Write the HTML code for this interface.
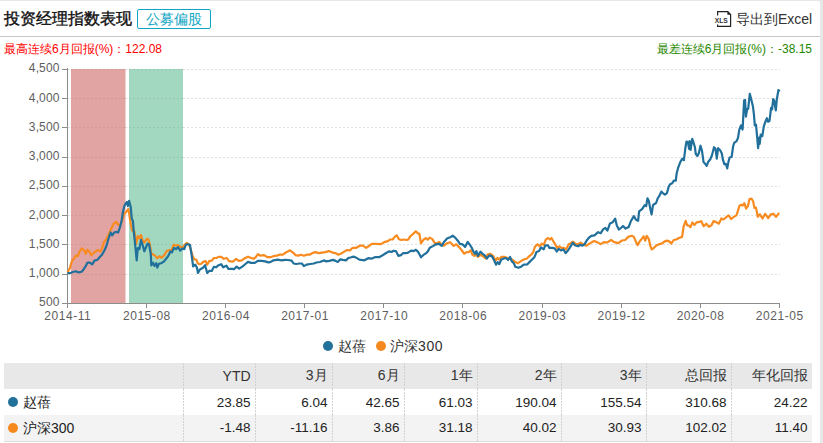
<!DOCTYPE html>
<html><head><meta charset="utf-8">
<style>
html,body{margin:0;padding:0;}
body{width:823px;height:443px;overflow:hidden;background:#e8e8e8;font-family:"Liberation Sans",sans-serif;position:relative;}
#panel{position:absolute;left:-6px;top:1px;width:826px;height:460px;background:#fff;border-radius:2px;}
.abs{position:absolute;white-space:nowrap;}
#title{left:4px;top:8px;font-size:16px;font-weight:500;-webkit-text-stroke:0.4px #111;color:#111;line-height:22px;}
#badge{left:137px;top:9px;width:72px;height:18px;border:1px solid #0ea6c4;border-radius:2px;color:#0ea6c4;font-size:14px;line-height:18px;text-align:center;}
#sep{left:0;top:36px;width:820px;height:1px;background:#c6c6c6;}
#excel{left:736px;top:9px;font-size:14px;color:#333;line-height:20px;}
#maxr{left:4px;top:42px;font-size:12px;color:#f00;line-height:14px;}
#minr{right:11px;top:42px;font-size:12px;color:#1f8800;line-height:14px;}
.ax{font-size:12px;color:#555;line-height:14px;}
.yl{right:758px;text-align:right;}
.xl{width:60px;margin-left:-30px;text-align:center;top:309px;}
#legend,#legend2{top:338px;font-size:14px;color:#333;line-height:16px;}
.dot{display:inline-block;width:10px;height:10px;border-radius:50%;vertical-align:middle;}
table{position:absolute;left:4px;top:363px;border-collapse:collapse;font-size:14px;color:#222;}
td{height:26px;padding:0 4.4px 0 0;font-size:13.5px;text-align:right;box-sizing:border-box;background-image:linear-gradient(#d2d2d2 67%,transparent 67%);background-size:1px 3px;background-repeat:repeat-y;background-position:0 0;}
td.n{text-align:left;background-image:none;padding-left:4px;font-size:14px;}
tr.h td{font-size:14px;}
table{border-bottom:1px solid #ddd;}
.nm{position:relative;top:1px;margin-left:5px;}
tr.h td{background-color:#e8e8e8;color:#333;}
tr.r2 td{background-color:#f3f3f3;}
</style></head><body>
<div id="panel"></div>
<div class="abs" id="title">投资经理指数表现</div>
<div class="abs" id="badge">公募偏股</div>
<div class="abs" id="sep"></div>
<svg class="abs" style="left:712px;top:8px" width="22" height="22" viewBox="712 8 22 22"><path d="M717.6 15.6 V11.6 H727.8 L730.6 14.4 V26.3 H717.6 V24.4" fill="none" stroke="#222" stroke-width="1.2"/><path d="M727.4 11.2 L731 14.8 H727.4 Z" fill="#222"/><text x="714.8" y="22.8" font-size="7" font-weight="bold" fill="#333" font-family="Liberation Sans" textLength="13" lengthAdjust="spacingAndGlyphs">XLS</text></svg><div class="abs" id="excel">导出到Excel</div>
<div class="abs" id="maxr">最高连续6月回报(%)：122.08</div>
<div class="abs" id="minr">最差连续6月回报(%)：-38.15</div>
<svg class="abs" style="left:0;top:0" width="823" height="443"><rect x="71" y="69" width="54.5" height="234" fill="#e2a3a3"/>
<rect x="129" y="69" width="54" height="234" fill="#a3d8c0"/>
<g stroke="#000" stroke-opacity="0.12" stroke-width="1" stroke-dasharray="2,2" fill="none"><path d="M68 274.5 H71 M125.5 274.5 H129 M183 274.5 H780"/><path d="M68 244.5 H71 M125.5 244.5 H129 M183 244.5 H780"/><path d="M68 215.5 H71 M125.5 215.5 H129 M183 215.5 H780"/><path d="M68 186.5 H71 M125.5 186.5 H129 M183 186.5 H780"/><path d="M68 157.5 H71 M125.5 157.5 H129 M183 157.5 H780"/><path d="M68 127.5 H71 M125.5 127.5 H129 M183 127.5 H780"/><path d="M68 98.5 H71 M125.5 98.5 H129 M183 98.5 H780"/><path d="M68 69.5 H71 M125.5 69.5 H129 M183 69.5 H780"/></g>
<g stroke="#000" stroke-opacity="0.07" stroke-width="1" stroke-dasharray="2,2" stroke-dashoffset="0" fill="none"><path d="M71 274.5 H125.5 M129 274.5 H183"/><path d="M71 244.5 H125.5 M129 244.5 H183"/><path d="M71 215.5 H125.5 M129 215.5 H183"/><path d="M71 186.5 H125.5 M129 186.5 H183"/><path d="M71 157.5 H125.5 M129 157.5 H183"/><path d="M71 127.5 H125.5 M129 127.5 H183"/><path d="M71 98.5 H125.5 M129 98.5 H183"/><path d="M71 69.5 H125.5 M129 69.5 H183"/></g>
<g stroke="#8c8c8c" stroke-width="1" fill="none"><path d="M67.5 68 V308"/><path d="M67 303.5 H780"/><path d="M62 303.5 H67.5"/><path d="M62 274.5 H67.5"/><path d="M62 244.5 H67.5"/><path d="M62 215.5 H67.5"/><path d="M62 186.5 H67.5"/><path d="M62 157.5 H67.5"/><path d="M62 127.5 H67.5"/><path d="M62 98.5 H67.5"/><path d="M62 69.5 H67.5"/><path d="M67.5 303 V308"/><path d="M146.5 303 V308"/><path d="M225.5 303 V308"/><path d="M304.5 303 V308"/><path d="M383.5 303 V308"/><path d="M462.5 303 V308"/><path d="M542.5 303 V308"/><path d="M621.5 303 V308"/><path d="M700.5 303 V308"/><path d="M779.5 303 V308"/></g>
<path d="M67.5 272.6 L69.9 267.9 L72.2 260.3 L74.0 258.8 L75.7 255.6 L77.9 256.2 L79.3 252.1 L81.6 248.5 L84.0 250.1 L85.7 253.8 L87.5 249.7 L89.2 251.5 L91.2 255.2 L93.4 253.2 L95.7 251.2 L98.0 250.1 L100.4 251.5 L102.2 248.0 L103.9 242.1 L106.3 239.2 L108.6 234.5 L111.7 227.8 L114.1 223.1 L116.4 221.9 L118.2 224.9 L120.5 224.9 L122.3 220.2 L124.1 213.7 L125.8 212.5 L128.2 209.0 L129.3 214.3 L130.7 224.2 L132.3 230.7 L134.5 231.8 L136.1 244.0 L137.8 236.1 L139.4 238.3 L141.0 235.0 L142.6 240.4 L144.3 242.6 L146.4 239.4 L148.1 238.8 L149.7 243.7 L151.3 253.5 L153.0 254.5 L155.1 255.6 L157.3 258.3 L159.5 256.2 L161.6 257.8 L164.3 255.1 L167.0 250.7 L169.8 250.0 L171.4 250.7 L173.6 244.8 L176.0 245.5 L178.1 245.0 L180.7 247.1 L182.7 247.6 L184.8 244.5 L186.9 242.9 L189.0 244.5 L191.1 250.7 L192.6 255.9 L194.2 259.5 L196.2 259.5 L197.8 263.2 L199.4 264.2 L201.4 263.7 L203.5 261.6 L205.6 261.1 L207.2 264.7 L209.2 261.1 L211.8 260.6 L213.9 258.0 L216.5 258.0 L218.6 256.9 L221.2 256.9 L223.8 258.8 L226.9 258.0 L229.0 261.1 L233.1 261.6 L234.0 260.8 L236.1 258.8 L238.7 260.8 L241.8 260.3 L244.9 258.2 L248.0 256.7 L250.6 257.7 L253.7 258.8 L255.8 257.2 L257.9 254.1 L260.5 255.7 L264.1 255.1 L267.2 257.2 L270.3 257.2 L273.5 256.2 L276.6 255.7 L279.7 254.6 L282.8 254.6 L285.9 252.5 L290.1 250.3 L292.7 252.5 L293.6 253.1 L295.6 255.2 L298.2 255.7 L300.8 254.7 L303.9 255.7 L306.5 254.7 L309.7 254.7 L312.2 253.1 L315.4 252.1 L318.5 253.1 L322.1 252.6 L325.2 252.1 L328.9 251.1 L332.5 252.6 L335.6 253.1 L338.2 254.7 L340.8 253.7 L343.4 252.1 L347.0 250.0 L350.0 250.4 L352.6 247.8 L356.2 247.8 L359.9 245.7 L363.0 245.7 L366.1 247.8 L368.7 246.2 L371.8 243.9 L376.0 243.9 L380.6 244.2 L384.3 242.1 L387.9 241.1 L390.0 239.5 L392.6 239.5 L394.7 236.9 L396.7 235.3 L398.8 239.0 L400.9 240.0 L404.0 239.5 L406.6 240.0 L408.0 239.7 L410.6 236.0 L413.2 233.9 L415.8 231.3 L417.9 233.4 L419.4 233.9 L421.0 243.3 L423.6 239.7 L425.7 238.1 L427.7 239.7 L429.8 237.6 L432.4 239.1 L434.5 242.8 L437.1 243.3 L439.2 241.9 L441.2 244.3 L443.8 245.7 L447.0 243.3 L450.1 242.2 L453.7 245.9 L456.3 244.3 L458.9 246.9 L461.5 250.0 L464.1 253.7 L466.7 252.1 L468.6 252.2 L470.7 250.2 L472.2 254.3 L474.3 255.9 L476.4 254.8 L477.9 256.9 L480.5 254.8 L483.1 256.4 L485.7 258.5 L487.8 254.3 L490.4 253.8 L493.0 255.9 L495.6 260.6 L497.2 258.0 L499.2 259.5 L501.3 256.9 L504.9 256.9 L508.6 258.5 L512.2 259.5 L515.3 262.1 L517.9 263.2 L521.0 261.1 L523.6 259.5 L526.6 258.8 L528.7 256.7 L531.3 254.6 L533.3 252.0 L534.9 246.8 L537.5 244.2 L539.6 246.3 L541.7 243.7 L543.7 244.8 L545.8 239.6 L547.9 238.0 L550.0 239.6 L551.5 238.0 L553.6 241.7 L555.7 245.3 L557.2 247.9 L559.3 246.3 L561.4 247.9 L564.0 247.9 L566.1 249.4 L568.7 244.2 L570.7 243.2 L572.8 241.7 L575.9 244.2 L578.0 244.2 L580.6 242.7 L582.5 244.0 L586.2 245.7 L590.3 243.1 L594.0 241.0 L597.1 242.1 L600.7 244.1 L603.8 242.1 L606.9 242.6 L611.1 240.0 L614.2 242.1 L618.3 243.1 L622.0 240.5 L625.1 240.0 L628.2 236.9 L631.8 235.8 L633.9 236.9 L636.0 242.1 L637.6 245.2 L639.6 241.5 L641.7 238.9 L643.6 236.4 L645.2 240.6 L646.7 235.9 L648.8 239.0 L650.4 246.3 L651.9 249.4 L654.0 247.8 L656.6 245.2 L659.2 244.2 L661.8 243.7 L664.4 241.6 L667.0 240.6 L669.6 241.6 L671.2 243.7 L673.7 240.0 L676.3 239.5 L678.9 238.0 L682.1 236.9 L683.6 226.5 L685.7 220.8 L687.2 225.5 L688.8 225.5 L690.4 227.1 L692.4 222.4 L694.5 225.0 L696.6 222.4 L699.7 221.9 L701.1 221.1 L703.7 226.3 L706.3 223.7 L708.9 226.8 L711.5 225.2 L713.6 221.1 L716.2 222.1 L718.8 223.7 L721.4 218.5 L723.4 219.5 L726.0 217.4 L728.6 215.4 L731.2 219.0 L733.8 216.9 L736.4 215.4 L738.0 210.7 L739.4 205.8 L741.4 204.8 L742.8 205.5 L744.3 203.1 L746.1 208.6 L747.9 206.2 L749.5 199.0 L751.6 198.7 L753.1 201.3 L754.4 207.9 L756.0 207.6 L757.8 216.7 L759.9 214.3 L762.5 218.5 L765.1 213.8 L768.2 218.0 L770.8 214.3 L773.4 213.8 L776.0 216.9 L779.1 212.8" fill="none" stroke="#f78b1f" stroke-width="2.2" stroke-linejoin="round"/>
<path d="M67.5 273.2 L69.9 273.2 L72.8 272.0 L75.7 271.2 L78.7 272.4 L81.6 271.7 L83.4 269.7 L85.7 266.2 L87.5 262.6 L89.8 262.6 L92.2 264.4 L94.5 260.6 L97.5 259.7 L99.8 257.1 L102.2 254.4 L104.5 250.3 L106.3 246.2 L108.8 237.8 L110.6 232.5 L112.3 235.4 L114.1 232.5 L116.4 231.9 L118.2 232.5 L120.0 227.2 L121.7 220.2 L122.9 212.0 L124.4 206.1 L125.8 203.2 L127.0 202.0 L127.9 206.1 L129.1 200.8 L130.8 207.3 L131.7 218.4 L132.9 221.0 L133.8 232.0 L134.5 238.3 L135.6 249.1 L136.7 260.5 L137.8 248.0 L139.4 249.1 L141.0 239.9 L142.6 244.8 L144.3 251.3 L145.9 247.5 L147.5 243.7 L149.1 244.2 L150.8 254.5 L151.3 265.4 L153.0 262.7 L154.6 265.9 L156.2 263.2 L157.3 267.6 L158.9 263.8 L161.1 263.2 L163.8 261.6 L166.5 258.3 L168.7 255.1 L170.3 251.5 L171.9 252.4 L174.1 247.8 L176.0 249.1 L178.1 247.1 L180.2 250.7 L182.2 248.6 L184.3 249.1 L185.9 244.5 L188.5 244.3 L190.0 245.0 L191.6 254.8 L193.1 266.3 L195.2 264.7 L196.8 267.3 L198.0 273.0 L199.9 269.4 L203.0 267.8 L205.1 265.2 L207.2 273.0 L209.2 270.9 L211.8 270.9 L213.9 266.8 L216.0 267.3 L218.6 265.2 L221.2 264.2 L223.2 267.3 L226.4 265.7 L228.4 268.9 L232.1 268.9 L234.0 269.2 L236.6 266.6 L239.2 268.6 L242.3 266.6 L244.9 264.5 L248.0 261.9 L251.1 262.9 L254.8 262.9 L257.9 260.8 L261.5 260.8 L265.2 261.4 L268.3 262.4 L270.3 262.1 L273.5 260.3 L277.6 259.6 L281.8 260.3 L284.9 259.8 L288.0 260.0 L291.6 260.6 L293.6 263.5 L296.2 264.0 L299.3 263.5 L301.9 263.5 L303.9 266.1 L306.5 264.6 L310.2 264.0 L313.8 263.5 L316.4 262.5 L320.0 262.0 L323.7 260.4 L326.3 261.4 L329.4 260.9 L333.0 259.9 L335.6 260.9 L337.7 262.0 L340.3 259.4 L342.9 259.9 L346.0 260.4 L348.6 257.8 L350.5 257.5 L353.6 256.6 L356.2 257.7 L359.3 259.7 L364.5 260.3 L368.2 258.2 L371.3 258.7 L374.9 257.2 L379.1 257.2 L382.2 255.6 L385.3 253.5 L388.9 251.4 L391.5 252.0 L393.6 250.7 L396.2 251.4 L398.3 255.9 L400.9 255.1 L403.0 253.2 L406.1 253.2 L408.0 252.6 L411.1 250.6 L413.7 251.1 L415.8 249.8 L417.9 251.6 L419.4 254.2 L421.0 257.3 L423.1 255.2 L426.2 253.2 L427.7 251.6 L429.8 247.8 L432.9 246.1 L436.0 244.3 L439.2 243.8 L441.7 245.9 L443.8 242.2 L447.0 238.6 L449.5 237.6 L452.7 235.7 L455.2 237.6 L457.8 240.7 L459.9 243.8 L462.5 244.3 L465.1 246.9 L467.6 241.9 L469.6 244.5 L471.7 247.6 L473.3 251.2 L474.8 253.8 L476.4 251.2 L477.9 255.9 L480.5 251.7 L482.6 253.8 L484.7 255.4 L486.8 258.5 L489.4 255.4 L492.0 256.4 L494.0 260.0 L496.1 264.7 L497.7 262.1 L499.2 264.2 L501.3 259.5 L503.9 258.5 L506.0 258.0 L508.1 260.0 L510.1 256.9 L511.7 261.1 L513.8 263.2 L515.3 266.8 L518.4 267.8 L521.0 266.8 L523.6 264.7 L527.1 264.5 L529.7 261.9 L532.3 259.3 L534.4 257.2 L536.5 252.0 L539.1 251.0 L541.1 247.4 L543.7 249.4 L545.3 245.3 L547.9 245.3 L549.4 247.9 L552.6 247.9 L554.6 248.4 L556.7 251.5 L558.8 248.9 L560.9 250.5 L563.5 249.4 L565.5 253.1 L567.6 251.0 L569.7 247.9 L572.8 242.7 L574.9 245.3 L578.0 246.3 L580.6 244.8 L582.5 245.7 L584.6 244.1 L586.7 240.5 L588.7 237.9 L591.3 235.8 L594.5 235.3 L598.1 232.2 L600.7 233.2 L603.3 229.1 L605.4 228.0 L607.4 230.6 L610.0 223.4 L612.6 222.3 L615.2 218.7 L616.8 225.4 L618.9 229.6 L620.9 228.0 L623.0 226.0 L625.6 228.6 L628.7 227.0 L630.8 221.3 L633.9 216.1 L636.0 219.7 L638.1 220.8 L639.1 211.4 L641.7 209.3 L642.1 209.2 L644.7 205.1 L646.2 206.1 L647.5 198.3 L648.8 200.9 L650.4 209.2 L651.6 214.4 L653.0 205.1 L654.5 204.0 L656.1 203.0 L657.7 198.3 L659.2 196.2 L661.3 191.6 L662.8 193.1 L664.9 194.7 L667.0 193.1 L668.6 186.9 L670.1 184.3 L672.2 183.3 L673.7 180.7 L675.8 180.7 L676.6 173.7 L678.2 167.5 L680.2 162.3 L682.3 158.6 L683.9 160.2 L685.4 147.7 L686.5 141.5 L688.0 142.5 L689.1 148.8 L689.6 141.0 L690.6 149.8 L692.2 138.9 L693.2 141.5 L694.8 146.7 L695.8 154.0 L697.4 156.0 L698.9 152.9 L700.5 145.7 L702.0 150.8 L703.6 162.3 L705.2 163.8 L706.7 165.9 L708.3 161.7 L710.3 159.2 L711.9 155.5 L714.0 147.2 L715.5 148.8 L716.8 158.6 L718.1 148.2 L720.2 150.3 L721.8 153.4 L722.8 159.2 L724.4 164.3 L725.9 163.8 L727.2 168.5 L728.5 161.6 L729.6 157.5 L731.6 157.0 L733.2 146.0 L734.2 142.9 L736.3 141.4 L737.9 138.2 L739.4 129.4 L741.0 125.3 L742.6 129.5 L744.1 100.5 L745.1 100.0 L745.9 116.6 L747.2 108.8 L748.2 108.8 L749.8 93.8 L751.4 100.0 L752.9 106.2 L754.0 115.1 L754.8 125.5 L756.0 124.7 L757.1 136.7 L758.1 148.1 L759.2 137.7 L759.7 144.0 L760.7 134.6 L762.3 136.2 L763.8 126.3 L765.4 121.6 L766.9 118.2 L768.0 121.8 L769.5 120.8 L771.1 107.8 L772.1 109.4 L773.2 99.0 L774.2 100.5 L775.8 110.4 L776.8 99.5 L778.4 90.2 L779.9 91.2" fill="none" stroke="#21709b" stroke-width="2.2" stroke-linejoin="round"/>
<g font-family="Liberation Sans" font-size="12" fill="#5e5e5e"><text x="59.6" y="306.4" text-anchor="end" letter-spacing="0.15">500</text><text x="59.6" y="277.1" text-anchor="end" letter-spacing="0.15">1,000</text><text x="59.6" y="247.9" text-anchor="end" letter-spacing="0.15">1,500</text><text x="59.6" y="218.7" text-anchor="end" letter-spacing="0.15">2,000</text><text x="59.6" y="189.4" text-anchor="end" letter-spacing="0.15">2,500</text><text x="59.6" y="160.2" text-anchor="end" letter-spacing="0.15">3,000</text><text x="59.6" y="130.9" text-anchor="end" letter-spacing="0.15">3,500</text><text x="59.6" y="101.7" text-anchor="end" letter-spacing="0.15">4,000</text><text x="59.6" y="72.4" text-anchor="end" letter-spacing="0.15">4,500</text><text x="67.8" y="320" text-anchor="middle" letter-spacing="0.55">2014-11</text><text x="146.9" y="320" text-anchor="middle" letter-spacing="0.55">2015-08</text><text x="226.0" y="320" text-anchor="middle" letter-spacing="0.55">2016-04</text><text x="305.1" y="320" text-anchor="middle" letter-spacing="0.55">2017-01</text><text x="384.2" y="320" text-anchor="middle" letter-spacing="0.55">2017-10</text><text x="463.3" y="320" text-anchor="middle" letter-spacing="0.55">2018-06</text><text x="542.4" y="320" text-anchor="middle" letter-spacing="0.55">2019-03</text><text x="621.5" y="320" text-anchor="middle" letter-spacing="0.55">2019-12</text><text x="700.6" y="320" text-anchor="middle" letter-spacing="0.55">2020-08</text><text x="779.7" y="320" text-anchor="middle" letter-spacing="0.55">2021-05</text></g></svg>
<div class="abs dot" style="left:322.5px;top:341px;background:#21719a"></div><div class="abs" id="legend" style="left:337.5px">赵蓓</div><div class="abs dot" style="left:375.5px;top:341px;background:#f5891f"></div><div class="abs" id="legend2" style="left:390px">沪深<span style="letter-spacing:0.6px">300</span></div>
<table>
<tr class="h"><td class="n" style="width:179px"></td><td style="width:72px">YTD</td><td style="width:77px">3月</td><td style="width:72px">6月</td><td style="width:73px">1年</td><td style="width:84px">2年</td><td style="width:85px">3年</td><td style="width:85px">总回报</td><td style="width:81px">年化回报</td></tr>
<tr><td class="n"><span class="dot" style="background:#21719a"></span><span class="nm">赵蓓</span></td><td>23.85</td><td>6.04</td><td>42.65</td><td>61.03</td><td>190.04</td><td>155.54</td><td>310.68</td><td>24.22</td></tr>
<tr class="r2"><td class="n"><span class="dot" style="background:#f5891f"></span><span class="nm">沪深300</span></td><td>-1.48</td><td>-11.16</td><td>3.86</td><td>31.18</td><td>40.02</td><td>30.93</td><td>102.02</td><td>11.40</td></tr>
</table>
</body></html>
